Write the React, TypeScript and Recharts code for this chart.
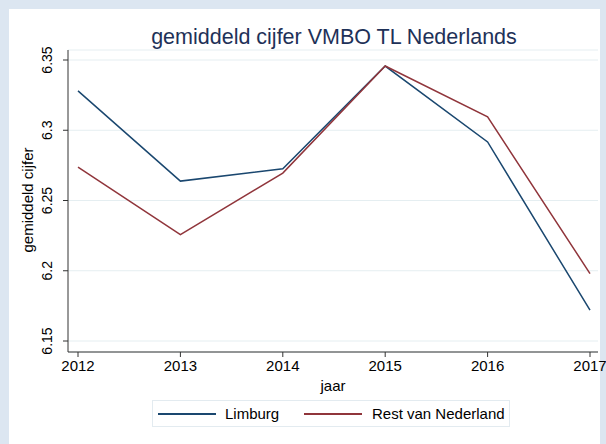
import React from 'react';
import { LineChart, Line, XAxis, YAxis, CartesianGrid, Label } from 'recharts';

const years = [2012, 2013, 2014, 2015, 2016, 2017];
const limburg = [6.328, 6.2638, 6.2726, 6.3457, 6.2917, 6.1719];
const restVanNederland = [6.2738, 6.2257, 6.2695, 6.3457, 6.3095, 6.198];
const yTicks = [6.15, 6.2, 6.25, 6.3, 6.35];
const seriesNames = ['Limburg', 'Rest van Nederland'];
const seriesColors = ['#1a476f', '#90353b'];
const title = 'gemiddeld cijfer VMBO TL Nederlands';
const xTitle = 'jaar';
const yTitle = 'gemiddeld cijfer';

const data = years.map((y, i) => ({ year: y, limburg: limburg[i], rest: restVanNederland[i] }));

const FONT = '"Liberation Sans", Arial, sans-serif';

const XTick = (props: any) => {
  const { x, y, payload } = props;
  return (
    <text x={x} y={y + 12} textAnchor="middle" fontSize={15} fontFamily={FONT} fill="#000">
      {String(payload.value)}
    </text>
  );
};

const YTick = (props: any) => {
  const { x, y, payload } = props;
  const bx = x - 9;
  return (
    <text
      x={bx}
      y={y}
      textAnchor="middle"
      fontSize={14}
      fontFamily={FONT}
      fill="#000"
      transform={`rotate(-90, ${bx}, ${y})`}
    >
      {String(payload.value)}
    </text>
  );
};

const YLabel = (props: any) => {
  const { viewBox } = props;
  const cx = 33;
  const cy = viewBox.y + viewBox.height / 2 - 1;
  return (
    <text x={cx} y={cy} textAnchor="middle" fontSize={15} fontFamily={FONT} fill="#000" transform={`rotate(-90, ${cx}, ${cy})`}>
      {yTitle}
    </text>
  );
};

const XLabel = (props: any) => {
  const { viewBox } = props;
  const cx = viewBox.x + viewBox.width / 2;
  return (
    <text x={cx} y={391} textAnchor="middle" fontSize={15} fontFamily={FONT} fill="#000">
      {xTitle}
    </text>
  );
};

export default function App() {
  return (
    <div style={{ position: 'absolute', left: 0, top: 0, width: 606, height: 444, background: '#dce6f1', fontFamily: FONT, overflow: 'hidden' }}>
      <div style={{ position: 'absolute', left: 9, top: 9, width: 591, height: 435, background: '#ffffff' }} />
      <svg style={{ position: 'absolute', left: 0, top: 0 }} width={606} height={60}>
        <text x={334} y={44} textAnchor="middle" fontSize={21.5} fontFamily={FONT} fill="#1e3158">
          {title}
        </text>
      </svg>
      <div style={{ position: 'absolute', left: 0, top: 0 }}>
        <LineChart width={606} height={444} data={data} margin={{ top: 50, right: 8, left: 8, bottom: 62 }}>
          <CartesianGrid vertical={false} stroke="#e5eef1" strokeWidth={1} />
          <XAxis
            dataKey="year"
            type="number"
            domain={[2012, 2017]}
            ticks={years}
            padding={{ left: 10, right: 8 }}
            height={30}
            tickSize={5}
            tickLine={{ stroke: '#333' }}
            axisLine={{ stroke: '#333' }}
            tick={<XTick />}
            interval={0}
          >
            <Label content={<XLabel />} />
          </XAxis>
          <YAxis
            type="number"
            domain={[6.15, 6.35]}
            ticks={yTicks}
            padding={{ top: 10, bottom: 11 }}
            width={60}
            tickSize={5}
            tickLine={{ stroke: '#333' }}
            axisLine={{ stroke: '#333' }}
            tick={<YTick />}
            interval={0}
          >
            <Label content={<YLabel />} />
          </YAxis>
          <Line dataKey="limburg" name={seriesNames[0]} stroke={seriesColors[0]} strokeWidth={1.5} dot={false} isAnimationActive={false} />
          <Line dataKey="rest" name={seriesNames[1]} stroke={seriesColors[1]} strokeWidth={1.5} dot={false} isAnimationActive={false} />
        </LineChart>
      </div>
      <div
        style={{
          position: 'absolute',
          left: 152,
          top: 400,
          width: 358,
          height: 27,
          boxSizing: 'border-box',
          border: '1px solid #e3ebf0',
          background: '#fff',
        }}
      >
        {seriesNames.map((name, i) => (
          <div key={name} style={{ position: 'absolute', left: i === 0 ? 5 : 151, top: 0, height: 25, display: 'flex', alignItems: 'center' }}>
            <div style={{ width: 58, height: 0, borderTop: `2px solid ${seriesColors[i]}` }} />
            <span style={{ marginLeft: i === 0 ? 9 : 10, fontSize: 15, color: '#000', whiteSpace: 'nowrap', lineHeight: '25px' }}>{name}</span>
          </div>
        ))}
      </div>
    </div>
  );
}
